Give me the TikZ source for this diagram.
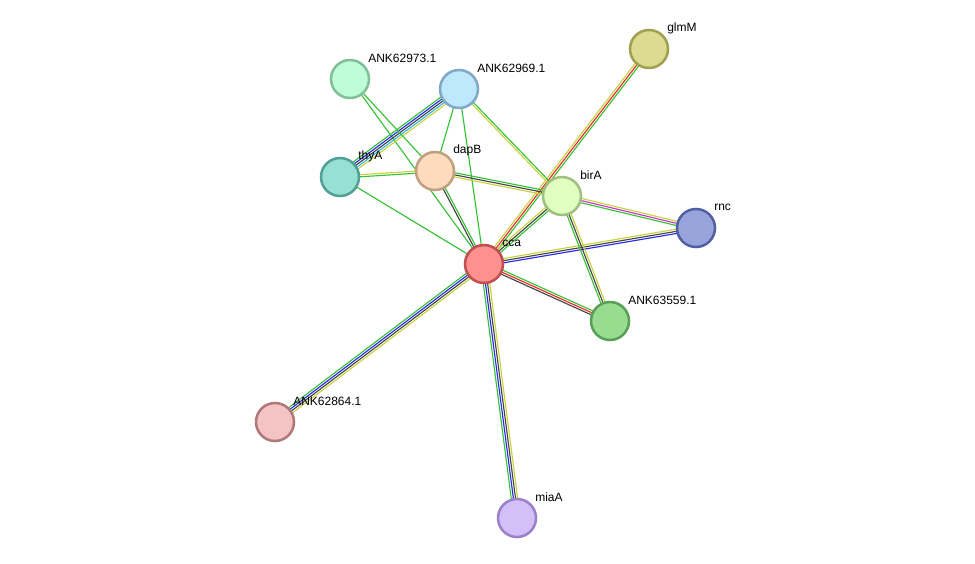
\documentclass[tikz,border=0pt]{standalone}
\usepackage{fontspec}
\setmainfont{Liberation Sans}
\usetikzlibrary{calc, backgrounds}
\tikzset{prot/.style={circle, minimum size=28.5pt, inner sep=0pt, line width=1.9pt},
  lbl/.style={anchor=west, font=\fontsize{9}{10}\selectfont, inner sep=0pt}}
\definecolor{sgreen}{HTML}{33C233}
\definecolor{syellow}{HTML}{C8D23C}
\definecolor{sblue}{HTML}{2828F0}
\definecolor{sred}{HTML}{F02828}
\definecolor{sblack}{HTML}{444444}
\definecolor{scyan}{HTML}{30B8E0}
\definecolor{smag}{HTML}{D030D0}
% edge as parallel coloured lines
\newcommand\edge[4]{%
  \foreach \c [count=\i] in {#4} {%
    \pgfmathsetmacro\off{(\i-(#3+1)/2)*1.6}
    \draw[\c, line width=0.85pt] ($(#1.center)!\off pt!90:(#2.center)$) -- ($(#2.center)!\off pt!-90:(#1.center)$);
  }}
% protein node with label
\newcommand\prot[5]{%
  \node (#1) [prot, fill={[HTML]#4}, draw={[HTML]#5}] at (#2) {};
  \node (#1-l) [lbl] at ($(#2)+(18,-21)$) {#3};}
\begin{document}
\begin{tikzpicture}[x=0.75pt, y=-0.75pt]
\useasboundingbox (0,0) rectangle (975,564);
\definecolor{fglmM}{HTML}{DCDC90}\definecolor{dglmM}{HTML}{A0A050}
\definecolor{fa73}{HTML}{C0FCD8}\definecolor{da73}{HTML}{80C098}
\definecolor{fa69}{HTML}{C0E8FC}\definecolor{da69}{HTML}{80A8C8}
\definecolor{fthy}{HTML}{98E0D4}\definecolor{dthy}{HTML}{50A098}
\definecolor{fdap}{HTML}{FCDCBC}\definecolor{ddap}{HTML}{C0A080}
\definecolor{fbir}{HTML}{E0FFC0}\definecolor{dbir}{HTML}{A0C080}
\definecolor{frnc}{HTML}{9AA4DC}\definecolor{drnc}{HTML}{5060A0}
\definecolor{fcca}{HTML}{FF9090}\definecolor{dcca}{HTML}{C05050}
\definecolor{fa59}{HTML}{98DC90}\definecolor{da59}{HTML}{58A058}
\definecolor{fa64}{HTML}{F4C4C4}\definecolor{da64}{HTML}{B07878}
\definecolor{fmia}{HTML}{D4C0F8}\definecolor{dmia}{HTML}{9C80C8}
\newcommand\protc[4]{\node (#1) [prot, fill=f#4, draw=d#4] at (#2) {};
  \node (#1-l) [lbl] at ($(#2)+(18,-21)$) {#3};}
\protc{glmM}{649,49}{glmM}{glmM}
\protc{ank73}{350,79}{ANK62973.1}{a73}
\protc{ank69}{459,89}{ANK62969.1}{a69}
\protc{thyA}{340,177}{thyA}{thy}
\protc{dapB}{435,171}{dapB}{dap}
\protc{birA}{562,196}{birA}{bir}
\protc{rnc}{696,228}{rnc}{rnc}
\protc{cca}{484,264}{cca}{cca}
\protc{ank59}{610,321}{ANK63559.1}{a59}
\protc{ank64}{275,422}{ANK62864.1}{a64}
\protc{miaA}{517,518}{miaA}{mia}
\begin{scope}[on background layer]
\edge{cca}{glmM}{3}{sgreen,sred,syellow}
\edge{cca}{ank64}{4}{sgreen,sblue,sblack,syellow}
\edge{cca}{miaA}{4}{sgreen,sblue,sblack,syellow}
\edge{cca}{rnc}{3}{sblue,sblack,syellow}
\edge{cca}{ank59}{3}{sblack,sred,sgreen}
\edge{cca}{birA}{3}{sgreen,sblack,syellow}
\edge{cca}{dapB}{2}{sgreen,sblack}
\edge{cca}{thyA}{1}{sgreen}
\edge{cca}{ank73}{1}{sgreen}
\edge{cca}{ank69}{1}{sgreen}
\edge{birA}{rnc}{3}{sgreen,smag,syellow}
\edge{birA}{ank59}{3}{sgreen,sblack,syellow}
\edge{birA}{dapB}{3}{sgreen,sblack,syellow}
\edge{birA}{ank69}{2}{sgreen,syellow}
\edge{thyA}{ank69}{5}{syellow,scyan,sblack,sblue,sgreen}
\edge{thyA}{dapB}{2}{sgreen,syellow}
\edge{dapB}{ank69}{1}{sgreen}
\edge{dapB}{ank73}{1}{sgreen}
\end{scope}
\end{tikzpicture}
\end{document}
